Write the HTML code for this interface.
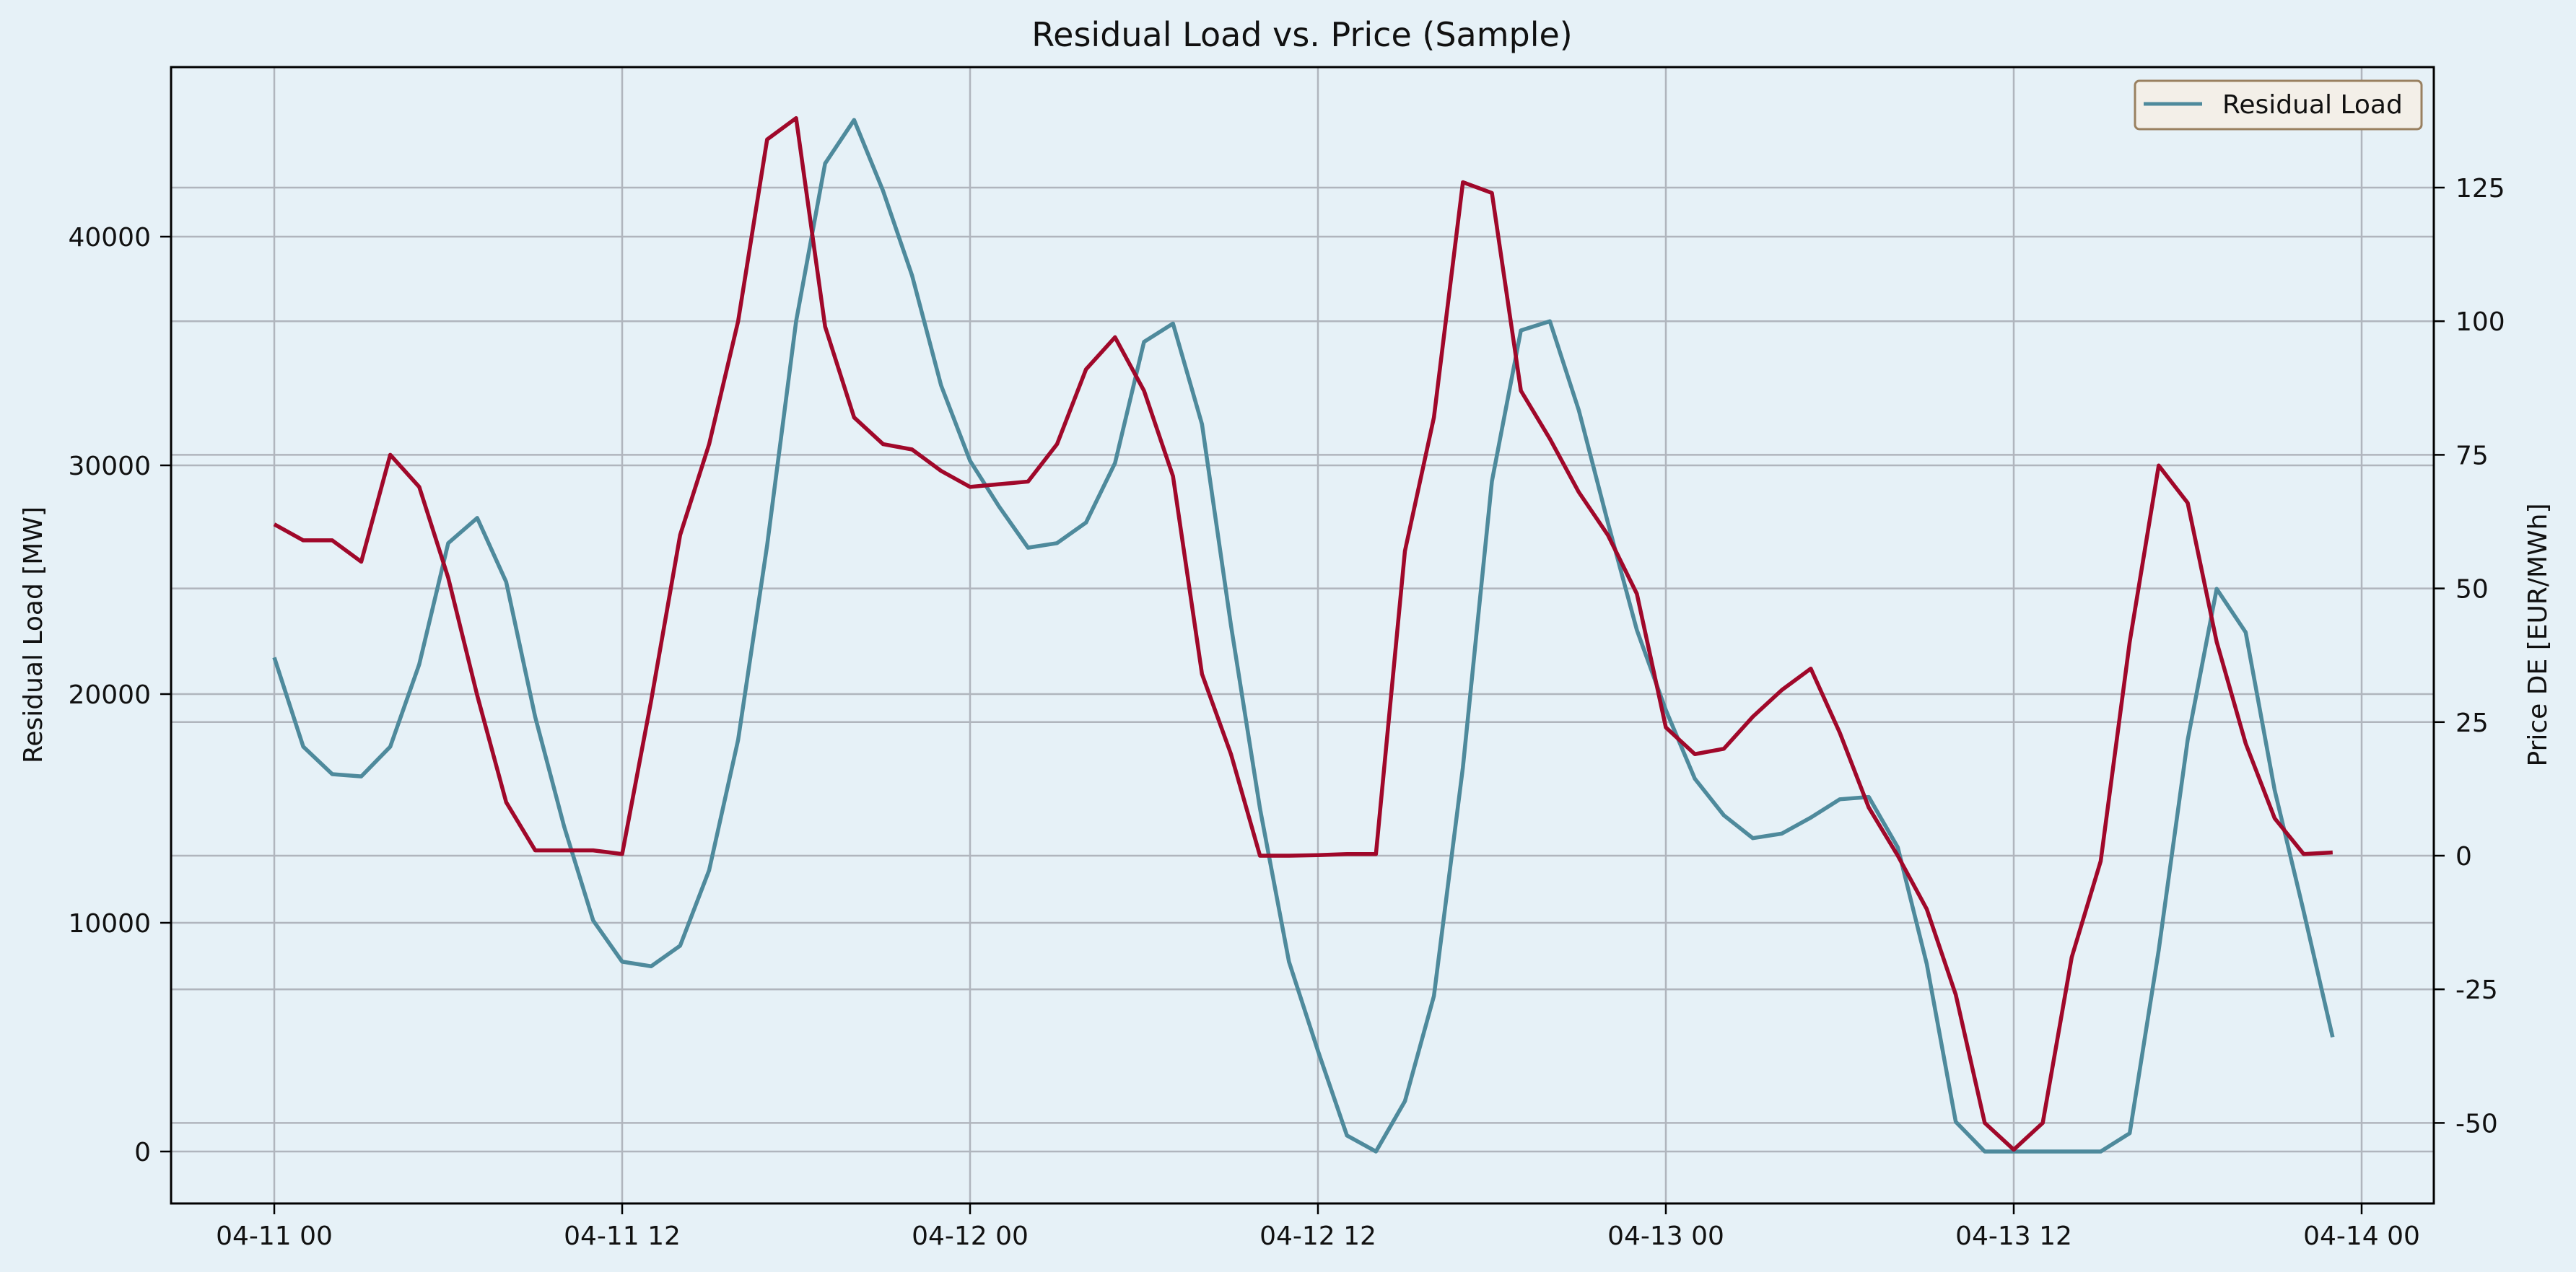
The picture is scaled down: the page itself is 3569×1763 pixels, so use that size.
<!DOCTYPE html>
<html><head><meta charset="utf-8">
<style>
html,body{margin:0;padding:0;background:#e6f1f7;}
svg{display:block;font-family:"DejaVu Sans","Liberation Sans",sans-serif;}
</style></head>
<body>
<svg id="chart" width="3569" height="1763" viewBox="0 0 3569 1763" xmlns="http://www.w3.org/2000/svg">
<rect x="0" y="0" width="3569" height="1763" fill="#e6f1f7"/>
<text x="1804" y="64" font-size="46" text-anchor="middle" fill="#111">Residual Load vs. Price (Sample)</text>
<g id="grid"></g>
<g id="series"></g>
<g id="axes"></g>
<g>
<rect x="2958" y="112" width="397" height="67" rx="6" fill="#f3efe8" stroke="#998060" stroke-width="3"/>
<line x1="2970" y1="144" x2="3051" y2="144" stroke="#4e8a9c" stroke-width="5"/>
<text x="3079" y="157" font-size="36" fill="#111">Residual Load</text>
</g>
<text transform="translate(58,880) rotate(-90)" font-size="36" text-anchor="middle" fill="#111">Residual Load [MW]</text>
<text transform="translate(3528,880) rotate(-90)" font-size="36" text-anchor="middle" fill="#111">Price DE [EUR/MWh]</text>
</svg>
<script>
const hours = Array.from({length:72},(_, i)=>i);
const residualLoad = [21600,17700,16500,16400,17700,21300,26600,27700,24900,19000,14200,10100,8300,8100,9000,12300,18000,26500,36300,43200,45100,42000,38300,33500,30200,28200,26400,26600,27500,30100,35400,36200,31800,23000,15000,8300,4400,700,0,2200,6800,16800,29300,35900,36300,32400,27500,22800,19300,16300,14700,13700,13900,14600,15400,15500,13300,8200,1300,0,0,0,0,0,800,8800,18000,24600,22700,15800,10500,5000];
const price = [62,59,59,55,75,69,52,30,10,1,1,1,0.3,29,60,77,100,134,138,99,82,77,76,72,69,69.5,70,77,91,97,87,71,34,19,0,0,0.1,0.3,0.3,57,82,126,124,87,78,68,60,49,24,19,20,26,31,35,23,9,0,-10,-26,-50,-55,-50,-19,-1,40,73,66,40,21,7,0.3,0.6];
const xTickHours = [0,12,24,36,48,60,72];
const xTickLabels = ["04-11 00","04-11 12","04-12 00","04-12 12","04-13 00","04-13 12","04-14 00"];
const leftTicks = [0,10000,20000,30000,40000];
const rightTicks = [-50,-25,0,25,50,75,100,125];

const L=237,R=3372,T=93,B=1668;
const NS="http://www.w3.org/2000/svg";
const xS = h => 380 + h*(482/12);
const yL = v => 1596 - v*(1268/40000);
const yR = v => 1186 - v*(926/125);
function mk(tag, attrs, parent){const e=document.createElementNS(NS,tag);for(const k in attrs)e.setAttribute(k,attrs[k]);parent.appendChild(e);return e;}
const grid=document.getElementById('grid'), series=document.getElementById('series'), axes=document.getElementById('axes');

xTickHours.forEach((h,i)=>{
  const x=xS(h);
  const g=mk('line',{x1:x,y1:T,x2:x,y2:B,stroke:'#b0b5bd','stroke-width':2.5},grid);
  
  
  const t=mk('line',{x1:x,y1:B,x2:x,y2:B+15,stroke:'#000','stroke-width':2.5},axes);
  
  
  const lb=mk('text',{x:x,y:1725,'font-size':36,'text-anchor':'middle',fill:'#111'},axes);
  lb.textContent=xTickLabels[i];
  
  
});
leftTicks.forEach(v=>{
  const y=yL(v);
  const g=mk('line',{x1:L,y1:y,x2:R,y2:y,stroke:'#b0b5bd','stroke-width':2.5},grid);
  
  
  const t=mk('line',{x1:L-15,y1:y,x2:L,y2:y,stroke:'#000','stroke-width':2.5},axes);
  
  
  const lb=mk('text',{x:L-28,y:y+13,'font-size':36,'text-anchor':'end',fill:'#111'},axes);
  lb.textContent=String(v);
  
  
});
rightTicks.forEach(v=>{
  const y=yR(v);
  const g=mk('line',{x1:L,y1:y,x2:R,y2:y,stroke:'#b0b5bd','stroke-width':2.5},grid);
  
  
  const t=mk('line',{x1:R,y1:y,x2:R+15,y2:y,stroke:'#000','stroke-width':2.5},axes);
  
  
  const lb=mk('text',{x:R+30,y:y+13,'font-size':36,'text-anchor':'start',fill:'#111'},axes);
  lb.textContent=String(v);
  
  
});
const frame=mk('rect',{x:L,y:T,width:R-L,height:B-T,fill:'none',stroke:'#000','stroke-width':3},axes);



const p1=mk('polyline',{points:hours.map((h,i)=>xS(h)+','+yL(residualLoad[i])).join(' '),fill:'none',stroke:'#4e8a9c','stroke-width':5.5,'stroke-linejoin':'round'},series);


const p2=mk('polyline',{points:hours.map((h,i)=>xS(h)+','+yR(price[i])).join(' '),fill:'none',stroke:'#a0082a','stroke-width':5.5,'stroke-linejoin':'round'},series);


</script>
</body></html>
